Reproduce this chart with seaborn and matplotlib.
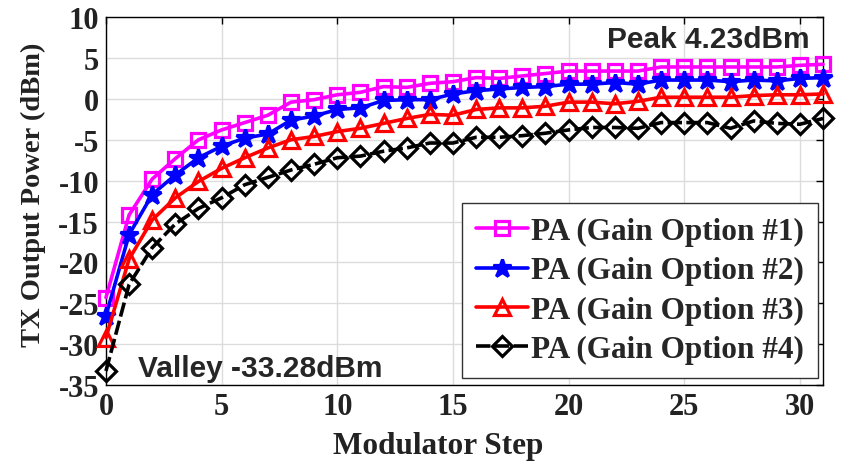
import numpy as np
import pandas as pd
import matplotlib
matplotlib.use("Agg")
import matplotlib.pyplot as plt
import seaborn as sns

# Modulator steps 0..31
steps = list(range(32))

# TX output power (dBm)
gain_opt1 = [-24.3, -14.2, -9.8, -7.3, -5.0, -3.8, -2.9, -2.0, -0.4, -0.1, 0.5, 0.8,
             1.5, 1.4, 1.9, 2.1, 2.6, 2.5, 2.8, 3.1, 3.4, 3.4, 3.4, 3.4,
             3.9, 3.9, 3.9, 3.9, 3.9, 3.9, 4.1, 4.23]
gain_opt2 = [-26.5, -16.6, -11.7, -9.3, -7.2, -5.8, -4.8, -4.3, -2.6, -2.1, -1.3, -1.1,
             -0.2, -0.1, -0.1, 0.6, 1.0, 1.2, 1.4, 1.5, 1.8, 1.8, 2.0, 1.8,
             2.3, 2.3, 2.3, 2.1, 2.3, 2.2, 2.5, 2.6]
gain_opt3 = [-29.2, -19.6, -14.8, -12.1, -10.1, -8.5, -7.2, -6.0, -5.0, -4.6, -4.0, -3.6,
             -3.0, -2.4, -1.9, -2.0, -1.3, -1.1, -1.1, -0.9, -0.4, -0.4, -0.6, -0.3,
             0.2, 0.2, 0.2, 0.2, 0.4, 0.5, 0.5, 0.6]
gain_opt4 = [-33.28, -22.7, -18.2, -15.3, -13.4, -12.1, -10.5, -9.6, -8.7, -8.0, -7.2, -7.0,
             -6.4, -6.0, -5.4, -5.4, -4.7, -4.7, -4.5, -4.2, -3.8, -3.5, -3.5, -3.6,
             -2.9, -2.9, -2.9, -3.6, -2.7, -3.0, -3.1, -2.4]

labels = ["PA (Gain Option #1)", "PA (Gain Option #2)",
          "PA (Gain Option #3)", "PA (Gain Option #4)"]

x_ticks = [0, 5, 10, 15, 20, 25, 30]
y_ticks = [-35, -30, -25, -20, -15, -10, -5, 0, 5, 10]

sns.set_style("whitegrid")
plt.rcParams["font.family"] = ["Liberation Serif", "DejaVu Serif"]
plt.rcParams["axes.unicode_minus"] = False

df = pd.DataFrame({
    "step": steps * 4,
    "power": gain_opt1 + gain_opt2 + gain_opt3 + gain_opt4,
    "option": [lab for lab in labels for _ in steps],
})

styles = {
    labels[0]: dict(color="#ff00ff", marker="s", mfc="none", ms=9.5, ls="-"),
    labels[1]: dict(color="#0000ff", marker="*", mfc="#0000ff", ms=13.5, ls="-"),
    labels[2]: dict(color="#ff0000", marker="^", mfc="none", ms=11, ls="-"),
    labels[3]: dict(color="#000000", marker="D", mfc="none", ms=10.5, ls=(0, (4, 1.2))),
}

fig, ax = plt.subplots(figsize=(8.45, 4.64), dpi=100)
fig.subplots_adjust(left=0.1254, right=0.974, top=0.961, bottom=0.168)

for lab in labels:
    st = styles[lab]
    sns.lineplot(data=df[df["option"] == lab], x="step", y="power", ax=ax,
                 color=st["color"], marker=st["marker"], markersize=st["ms"],
                 markerfacecolor=st["mfc"], markeredgecolor=st["color"],
                 markeredgewidth=2.3, linewidth=2.6, linestyle=st["ls"],
                 label=lab, clip_on=False, zorder=3)

ax.set_xlim(0, 31)
ax.set_ylim(-35, 10)
ax.set_xticks(x_ticks)
ax.set_yticks(y_ticks)
ax.grid(True, color="#dcdcdc", linewidth=1.0)
for sp in ax.spines.values():
    sp.set_color("black")
    sp.set_linewidth(1.0)
ax.tick_params(direction="in", length=5, width=1, top=True, right=True,
               colors="black", labelsize=22, pad=5)
for t in ax.get_xticklabels() + ax.get_yticklabels():
    t.set_fontweight("bold")
    t.set_color("#222222")

ax.set_xlabel("Modulator Step", fontsize=22.5, fontweight="bold", color="#222222")
ax.xaxis.set_label_coords(0.463, -0.125)
ax.set_ylabel("TX Output Power (dBm)", fontsize=20.5, fontweight="bold", color="#222222")
ax.yaxis.set_label_coords(-0.084, 0.52)

ax.text(0.982, 0.940, "Peak 4.23dBm", transform=ax.transAxes, ha="right", va="center",
        fontsize=21.5, fontweight="bold", family=["Liberation Sans", "DejaVu Sans"])
ax.text(0.045, 0.047, "Valley -33.28dBm", transform=ax.transAxes, ha="left", va="center",
        fontsize=21.5, fontweight="bold", family=["Liberation Sans", "DejaVu Sans"])

leg = ax.legend(loc="lower right", bbox_to_anchor=(0.993, 0.02),
                prop={"weight": "bold", "size": 22.5}, frameon=True, fancybox=False,
                handlelength=1.65, handletextpad=0.1, borderpad=0.45, labelspacing=0.32,
                borderaxespad=0.0)
leg.get_frame().set_edgecolor("#333333")
leg.get_frame().set_linewidth(1.0)
leg.get_frame().set_alpha(1.0)
leg.set_zorder(5)

fig.savefig("out.png", dpi=100)
